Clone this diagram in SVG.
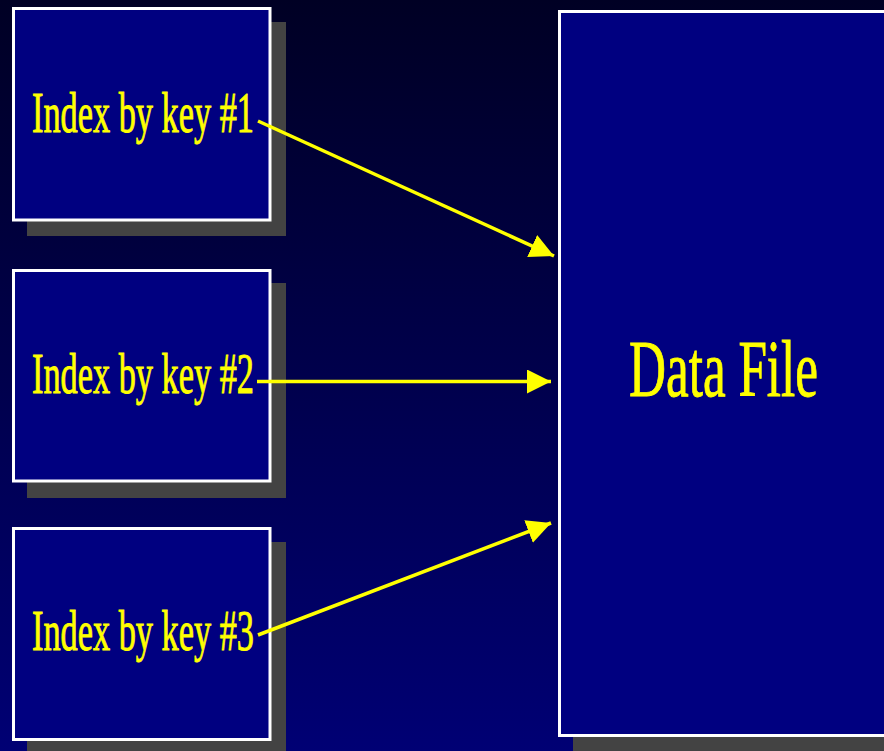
<svg xmlns="http://www.w3.org/2000/svg" width="884" height="751" viewBox="0 0 884 751">
  <defs>
    <linearGradient id="bg" x1="0" y1="0" x2="0" y2="1">
      <stop offset="0" stop-color="#000024"/>
      <stop offset="1" stop-color="#000074"/>
    </linearGradient>
    <marker id="ah" markerWidth="24" markerHeight="24" viewBox="0 0 24 24" refX="24" refY="12" orient="auto" markerUnits="userSpaceOnUse">
      <path d="M0,0 L24,12 L0,24 Z" fill="#ffff00"/>
    </marker>
    <style>
      .shadow { fill: #434343; }
      .box { fill: #000080; stroke: #ffffff; stroke-width: 3; }
      .lbl { fill: #ffff00; stroke: #ffff00; stroke-width: 0.9; font-family: "Liberation Serif", "Times New Roman", serif; }
      .conn { stroke: #ffff00; stroke-width: 3.5; fill: none; marker-end: url(#ah); }
    </style>
  </defs>
  <rect x="0" y="0" width="884" height="751" fill="url(#bg)"/>

  <g id="index1">
    <rect class="shadow" x="27" y="22" width="259" height="214"/>
    <rect class="box" x="13.5" y="8.5" width="256.5" height="211.5"/>
    <text class="lbl" x="32" y="132" font-size="56" textLength="222" lengthAdjust="spacingAndGlyphs">Index by key #1</text>
  </g>

  <g id="index2">
    <rect class="shadow" x="27" y="283" width="259" height="215"/>
    <rect class="box" x="13.5" y="270.5" width="256.5" height="210.5"/>
    <text class="lbl" x="32" y="393" font-size="56" textLength="222" lengthAdjust="spacingAndGlyphs">Index by key #2</text>
  </g>

  <g id="index3">
    <rect class="shadow" x="27" y="542" width="259" height="215"/>
    <rect class="box" x="13.5" y="528.5" width="256.5" height="211"/>
    <text class="lbl" x="32" y="650" font-size="56" textLength="222" lengthAdjust="spacingAndGlyphs">Index by key #3</text>
  </g>

  <g id="datafile">
    <rect class="shadow" x="573" y="25" width="330" height="740"/>
    <rect class="box" x="559.5" y="11.5" width="340" height="724"/>
    <text class="lbl" x="629" y="396" font-size="80" stroke-width="1.2" textLength="189" lengthAdjust="spacingAndGlyphs">Data File</text>
  </g>

  <g id="connectors">
    <line class="conn" x1="258" y1="121" x2="554" y2="256"/>
    <line class="conn" x1="257" y1="381.5" x2="551" y2="381.5"/>
    <line class="conn" x1="258" y1="635" x2="551" y2="523"/>
  </g>
</svg>
